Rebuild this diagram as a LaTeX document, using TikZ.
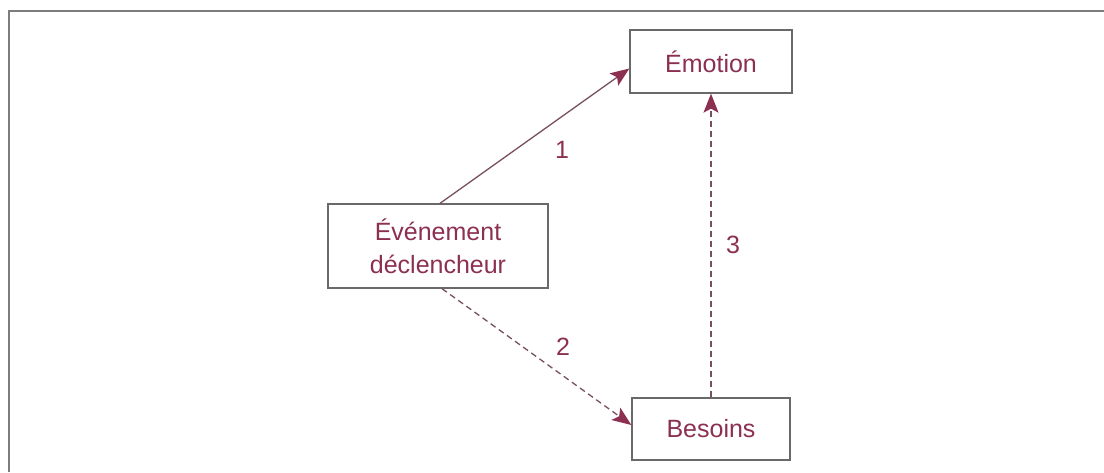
\documentclass[tikz,border=0pt]{standalone}
\usepackage{fontspec}
\setmainfont{Liberation Sans}
\usetikzlibrary{arrows.meta}
\definecolor{txtc}{RGB}{140,48,82}
\definecolor{boxc}{RGB}{105,105,105}
\definecolor{linec}{RGB}{120,80,92}
\definecolor{framec}{RGB}{125,125,125}
\tikzset{
  box/.style={draw=boxc, line width=1.3pt, text=txtc, align=center, inner sep=0pt,
    font=\fontsize{25}{33}\selectfont},
  conn/.style={draw=linec, line width=1.3pt, -{Stealth[length=19pt,width=15pt,inset=4pt,color=txtc,fill=txtc]}},
  dashconn/.style={conn, dash pattern=on 6pt off 4pt},
  lab/.style={text=txtc, font=\fontsize{25}{30}\selectfont, inner sep=0pt},
}
\begin{document}
\begin{tikzpicture}[x=1pt,y=-1pt]
\useasboundingbox (0,0) rectangle (1104,472);
\fill[white] (0,0) rectangle (1104,472);
\draw[framec, line width=2pt] (9,472) -- (9,11) -- (1104,11);
\node[box, minimum width=162pt, minimum height=63pt] (emo) at (711,61.5) {Émotion};
\node[box, minimum width=220pt, minimum height=84pt] (ev) at (438,246) {Événement\\déclencheur};
\node[box, minimum width=158pt, minimum height=62pt] (bes) at (711,429) {Besoins};
\draw[conn] ([xshift=2pt]ev.north) -- ([yshift=-7pt]emo.west);
\draw[dashconn] ([xshift=4pt]ev.south) -- ([yshift=4pt]bes.west);
\draw[dashconn] (bes.north) -- (emo.south);
\node[lab] (l1) at (562,150) {1};
\node[lab] (l2) at (563,347) {2};
\node[lab] (l3) at (733,245) {3};
\end{tikzpicture}
\end{document}
